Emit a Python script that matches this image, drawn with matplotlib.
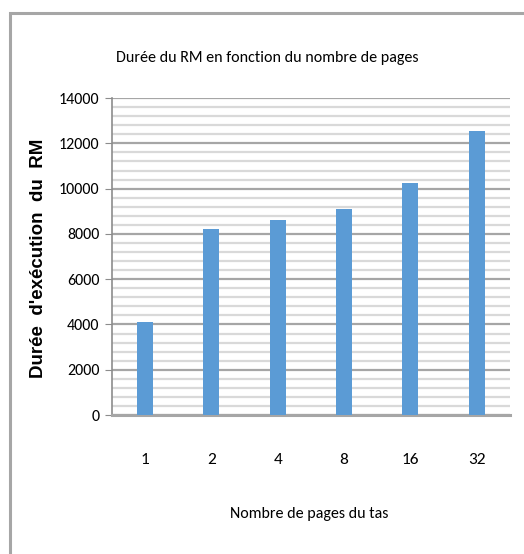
import matplotlib
matplotlib.use("Agg")
import matplotlib.pyplot as plt
from matplotlib.patches import Rectangle
from matplotlib.ticker import MultipleLocator

# Durée d'exécution du RM selon le nombre de pages du tas
pages = ["1", "2", "4", "8", "16", "32"]
durees = [4100, 8200, 8600, 9100, 10250, 12550]

narrow = ["Carlito", "Liberation Sans Narrow", "Open Sans"]

fig = plt.figure(figsize=(5.24, 5.54), dpi=100)
ax = fig.add_axes([0.2137, 0.2509, 0.759, 0.572])

# cadre gris autour du graphique
fig.patches.append(Rectangle((0.02, -0.05), 1.1, 1.026, transform=fig.transFigure,
                             fill=False, edgecolor="#a6a6a6", linewidth=2.2))

x = range(len(pages))
ax.bar(x, durees, width=0.24, color="#5b9bd5", zorder=3)

ax.set_xlim(-0.5, len(pages) - 0.5)
ax.set_ylim(0, 14000)
ax.yaxis.set_major_locator(MultipleLocator(2000))
ax.yaxis.set_minor_locator(MultipleLocator(400))
ax.grid(True, which="major", axis="y", color="#a6a6a6", linewidth=1.6, zorder=1)
ax.grid(True, which="minor", axis="y", color="#d9d9d9", linewidth=1.6, zorder=1)

for side in ["top", "right"]:
    ax.spines[side].set_visible(False)
ax.spines["left"].set_color("#8c8c8c")
ax.spines["left"].set_linewidth(1.2)
ax.spines["bottom"].set_color("#a6a6a6")
ax.spines["bottom"].set_linewidth(2.2)

ax.set_xticks(list(x))
ax.set_xticklabels(pages, family=narrow, fontsize=12.5)
ax.tick_params(axis="x", length=0, pad=27)
ax.tick_params(axis="y", which="major", length=5, color="#8c8c8c", pad=4)
ax.tick_params(axis="y", which="minor", length=0)
for lbl in ax.get_yticklabels():
    lbl.set_family(narrow)
    lbl.set_fontsize(11.5)

fig.text(0.51, 0.896, "Durée du RM en fonction du nombre de pages", ha="center", va="center",
         family=narrow, fontsize=11.5)
fig.text(0.59, 0.073, "Nombre de pages du tas", ha="center", va="center",
         family=narrow, fontsize=11.5)
fig.text(0.074, 0.534, "Durée  d'exécution  du  RM", rotation=90, ha="center", va="center",
         fontsize=13.5, fontweight="bold", family=["Liberation Sans", "DejaVu Sans"])

fig.savefig("out.png", dpi=100)
